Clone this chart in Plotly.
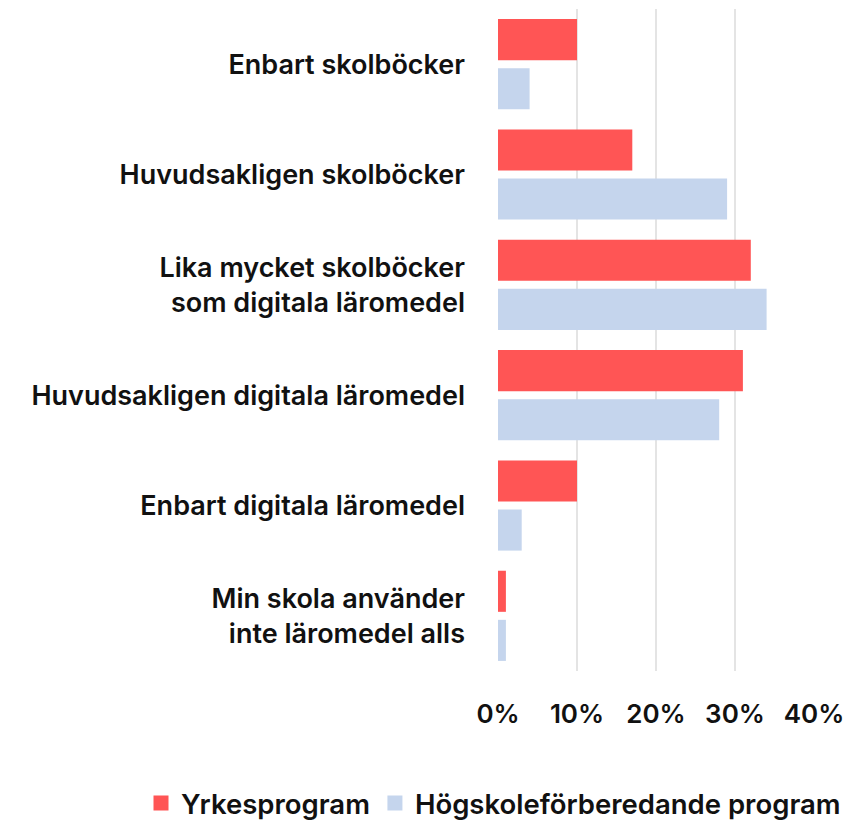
import plotly.graph_objects as go

categories = [
    "Enbart skolböcker",
    "Huvudsakligen skolböcker",
    "Lika mycket skolböcker<br>som digitala läromedel",
    "Huvudsakligen digitala läromedel",
    "Enbart digitala läromedel",
    "Min skola använder<br>inte läromedel alls",
]
yrkes = [0.10, 0.17, 0.32, 0.31, 0.10, 0.01]
hogskole = [0.04, 0.29, 0.34, 0.28, 0.03, 0.01]
series_names = ["Yrkesprogram", "Högskoleförberedande program"]
x_ticks = [0, 0.1, 0.2, 0.3, 0.4]
x_tick_labels = ["0%", "10%", "20%", "30%", "40%"]

RED = "#FF5555"
BLUE = "#C5D5ED"
FONT = "Inter"

fig = go.Figure()
fig.add_trace(go.Bar(y=categories, x=yrkes, name=series_names[0], orientation="h",
                     marker=dict(color=RED, line=dict(width=0)), showlegend=False))
fig.add_trace(go.Bar(y=categories, x=hogskole, name=series_names[1], orientation="h",
                     marker=dict(color=BLUE, line=dict(width=0)), showlegend=False))
# legend entries (larger square swatches)
for name, col in zip(series_names, [RED, BLUE]):
    fig.add_trace(go.Scatter(x=[None], y=[None], mode="markers", name=name,
                             marker=dict(symbol="square", size=15, color=col,
                                         line=dict(width=0)),
                             showlegend=True, hoverinfo="skip"))

fig.update_layout(
    width=861, height=821,
    margin=dict(l=498, r=47, t=9, b=150, autoexpand=False),
    paper_bgcolor="white", plot_bgcolor="white",
    barmode="group", bargap=0.11, bargroupgap=0.163,
    font=dict(family=FONT, size=27, color="#111111", weight=600),
    showlegend=True,
    legend=dict(orientation="h", xref="paper", xanchor="left", x=(141 - 498) / 316,
                yref="paper", yanchor="middle", y=(671 - 803) / 662,
                font=dict(family=FONT, size=27.5, color="#111111", weight=600),
                traceorder="normal", itemwidth=30, tracegroupgap=0,
                itemsizing="trace"),
    xaxis=dict(range=[0, 0.4], tickvals=x_ticks, ticktext=x_tick_labels,
               tickfont=dict(size=26),
               showgrid=True, gridcolor="#e4e4e4", gridwidth=1.6,
               zeroline=False, showline=False, ticks="", ticklabelstandoff=25,
               fixedrange=True),
    yaxis=dict(autorange="reversed", showgrid=False, zeroline=False, showline=False,
               ticks="", ticklabelstandoff=32, fixedrange=True),
)

fig.write_html("out.html", config={"displayModeBar": False},
               post_script="document.body.style.margin='0';")
